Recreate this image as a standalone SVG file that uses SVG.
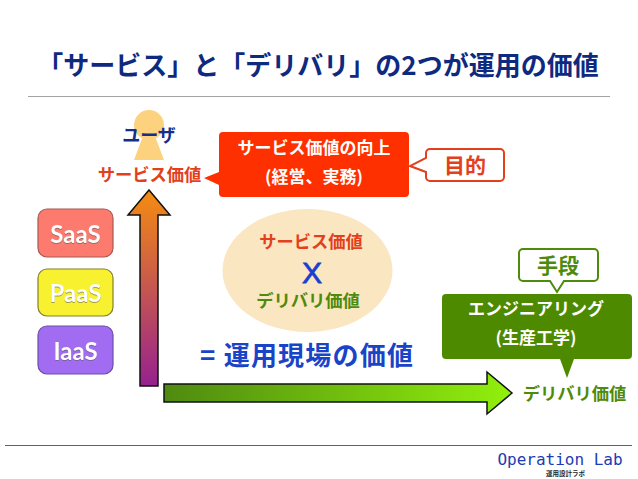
<svg xmlns="http://www.w3.org/2000/svg" width="638" height="479" viewBox="0 0 638 479">
<style>
text{font-family:"Noto Sans CJK JP","Liberation Sans",sans-serif;font-weight:700;text-anchor:middle}
.red{fill:#e2401c;font-size:17.300px}
.grn{fill:#4e8a0c;font-size:17.300px}
.wht{fill:#fff;font-size:17px}
.stack{font-family:"Lato","Open Sans",sans-serif;font-size:24px;fill:#fff;filter:drop-shadow(0 1px 0 rgba(90,90,90,.55))}
.box{stroke-width:1.2}
.arrow{stroke:#111;stroke-width:1.5;stroke-linejoin:miter}
</style>
<defs>
<linearGradient id="up" x1="0" y1="0" x2="0" y2="1"><stop offset="0" stop-color="#f58c10"/><stop offset="1" stop-color="#96218f"/></linearGradient>
<linearGradient id="right" x1="0" y1="0" x2="1" y2="0"><stop offset="0" stop-color="#4f8a10"/><stop offset="1" stop-color="#92f00c"/></linearGradient>
</defs>
<rect width="638" height="479" fill="#fff"/>
<text x="318" y="74.500" font-size="26" fill="#0e2a80" id="title">「サービス」と「デリバリ」の2つが運用の価値</text>
<line x1="28" y1="96.500" x2="610" y2="96.500" stroke="#a3a3a3" stroke-width="1"/>

<g id="user">
<circle cx="149" cy="125" r="15" fill="#fdd27f"/>
<path d="M143 136h12l9 24h-30z" fill="#fdd27f"/>
<text x="149" y="142" font-size="18" fill="#14308c">ユーザ</text>
<text x="149.500" y="181" class="red">サービス価値</text>
</g>

<g id="connectors">
<path class="arrow" fill="url(#up)" d="M149 190L170 215H158V386H140V215H128Z"/>
<path class="arrow" fill="url(#right)" d="M164 384H487V372L512 393L487 414V402H164Z"/>
</g>

<g id="saas"><rect class="box" x="38" y="209" width="75" height="48" rx="9" fill="#fc7a6e" stroke="#a85a52"/><text class="stack" x="75.500" y="242.500">SaaS</text></g>
<g id="paas"><rect class="box" x="38" y="269" width="75" height="47" rx="9" fill="#f7f12f" stroke="#857f2a"/><text class="stack" x="75.500" y="301.500">PaaS</text></g>
<g id="iaas"><rect class="box" x="38" y="326" width="75" height="48" rx="9" fill="#a26cf2" stroke="#6c4ca8"/><text class="stack" x="75.500" y="359.500">IaaS</text></g>

<g id="goal">
<path fill="#ff3000" d="M223 132H405a4 4 0 0 1 4 4V193a4 4 0 0 1-4 4H223a4 4 0 0 1-4-4V185L204 178L219 172V136a4 4 0 0 1 4-4Z"/>
<text class="wht" x="314" y="153.500">サービス価値の向上</text>
<text class="wht" x="314" y="182.500">(経営、実務)</text>
</g>
<g id="purpose">
<path fill="#fff" stroke="#e2401c" stroke-width="2" d="M430 149H500a4 4 0 0 1 4 4V177a4 4 0 0 1-4 4H430a4 4 0 0 1-4-4V172L410 166L426 158V153a4 4 0 0 1 4-4Z"/>
<text x="465" y="173" font-size="21" fill="#e2401c">目的</text>
</g>

<g id="value">
<ellipse cx="307.500" cy="270.500" rx="85" ry="61.500" fill="#fbe6c2"/>
<text class="red" x="311" y="247.500">サービス価値</text>
<text x="312" y="283" font-size="30" fill="#1a3fd0" stroke="#1a3fd0" stroke-width="0.8" style="font-family:'Liberation Sans',sans-serif;font-weight:400">X</text>
<text class="grn" x="308" y="306.500">デリバリ価値</text>
</g>

<text id="field" x="306.500" y="365" font-size="26" textLength="213" fill="#1a44c8">= 運用現場の価値</text>

<g id="means">
<path fill="#fff" stroke="#4e8a0c" stroke-width="2" d="M523 249H594a4 4 0 0 1 4 4V277a4 4 0 0 1-4 4H564L557 292L550 281H523a4 4 0 0 1-4-4V253a4 4 0 0 1 4-4Z"/>
<text x="558" y="273" font-size="21" fill="#4e8a0c">手段</text>
</g>
<g id="engineering">
<path fill="#4e8a00" d="M446 294H628a4 4 0 0 1 4 4V355a4 4 0 0 1-4 4H574L567 378L560 359H446a4 4 0 0 1-4-4V298a4 4 0 0 1 4-4Z"/>
<text class="wht" x="536" y="315">エンジニアリング</text>
<text class="wht" x="536" y="343.500">(生産工学)</text>
</g>
<text class="grn" x="574.500" y="399.500" id="delivery">デリバリ価値</text>

<line x1="5" y1="445.500" x2="632" y2="445.500" stroke="#2f62e0" stroke-width="1"/>
<g id="footer">
<text x="560" y="465" font-size="16" fill="#1c3cb4" style="font-family:'DejaVu Sans Mono',monospace;font-weight:400">Operation Lab</text>
<text x="565.500" y="476" font-size="6.500" fill="#222">運用設計ラボ</text>
</g>
</svg>
